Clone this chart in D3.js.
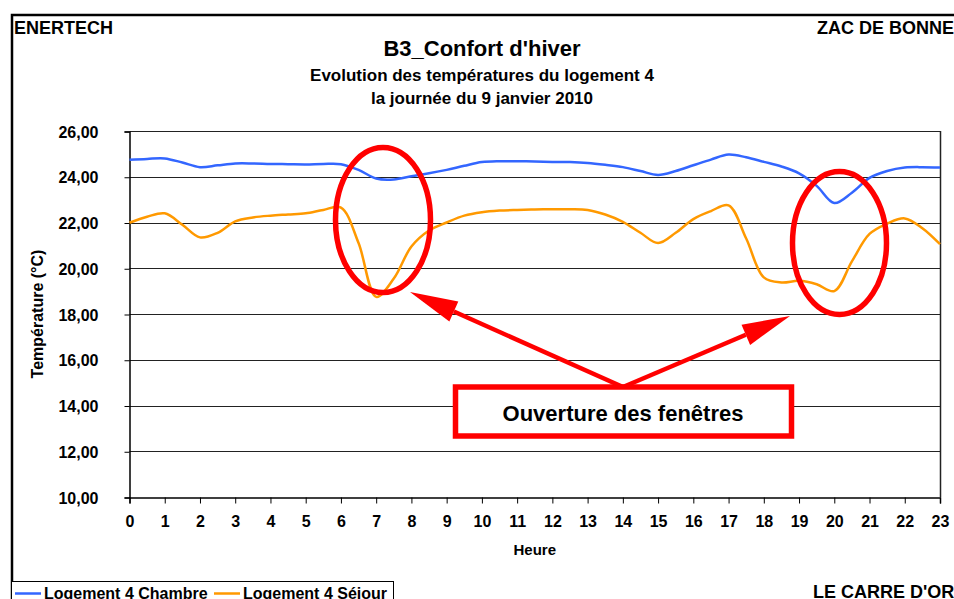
<!DOCTYPE html>
<html>
<head>
<meta charset="utf-8">
<script src="https://cdn.jsdelivr.net/npm/d3@7"></script>
<style>
  body { margin: 0; background: #fff; }
  svg { display: block; font-family: "Liberation Sans", Arial, sans-serif; font-weight: bold; }
</style>
</head>
<body>
<script>
const width = 954
const height = 599

// hours (half-hour readings)
const hours = [0, 0.5, 1, 1.5, 2, 2.5, 3, 3.5, 4, 4.5, 5, 5.5, 6, 6.5, 7, 7.5, 8, 8.5,
    9, 9.5, 10, 10.5, 11, 11.5, 12, 12.5, 13, 13.5, 14, 14.5, 15, 15.5, 16, 16.5,
    17, 17.5, 18, 18.5, 19, 19.5, 20, 20.5, 21, 21.5, 22, 22.5, 23];

const chambre = [24.74, 24.78, 24.80, 24.62, 24.42, 24.50, 24.58, 24.58, 24.56, 24.55,
    24.54, 24.56, 24.55, 24.30, 23.92, 23.88, 24.02, 24.15, 24.30, 24.48, 24.64, 24.68,
    24.68, 24.67, 24.65, 24.64, 24.60, 24.52, 24.42, 24.25, 24.08, 24.25, 24.50, 24.75,
    24.97, 24.85, 24.65, 24.45, 24.15, 23.60, 22.85, 23.30, 23.95, 24.25, 24.40, 24.42, 24.40];

const sejour = [21.99, 22.25, 22.40, 21.90, 21.35, 21.55, 22.05, 22.22, 22.30, 22.35,
    22.40, 22.55, 22.65, 21.10, 18.75, 19.55, 20.95, 21.65, 22.00, 22.30, 22.45, 22.52,
    22.55, 22.57, 22.58, 22.58, 22.55, 22.35, 22.03, 21.55, 21.10, 21.55, 22.15, 22.50,
    22.75, 21.30, 19.60, 19.38, 19.45, 19.30, 19.00, 20.30, 21.50, 21.95, 22.18, 21.75, 21.05];

const yTicks = [10, 12, 14, 16, 18, 20, 22, 24, 26];
const xTicks = [0, 1, 2, 3, 4, 5, 6, 7, 8, 9, 10, 11, 12, 13, 14, 15, 16, 17, 18, 19, 20, 21, 22, 23];

const seriesNames = ["Logement 4 Chambre", "Logement 4 Séjour"];
const seriesColors = ["#3366ff", "#ff9900"];

const svg = d3.select("body").append("svg")
    .attr("width", width)
    .attr("height", height);

// outer frame
svg.append("path")
    .attr("d", "M12,599 V15 H960")
    .attr("fill", "none")
    .attr("stroke", "#000")
    .attr("stroke-width", 2.5);

// headers
svg.append("text").attr("x", 14).attr("y", 34).attr("font-size", 18).text("ENERTECH");
svg.append("text").attr("x", 817).attr("y", 34).attr("font-size", 18).text("ZAC DE BONNE");
svg.append("text").attr("x", 813).attr("y", 598).attr("font-size", 18).text("LE CARRE D'OR");

// titles
svg.append("text").attr("x", 482).attr("y", 56).attr("text-anchor", "middle")
    .attr("font-size", 22).text("B3_Confort d'hiver");
svg.append("text").attr("x", 482).attr("y", 81).attr("text-anchor", "middle")
    .attr("font-size", 17).text("Evolution des températures du logement 4");
svg.append("text").attr("x", 482).attr("y", 104).attr("text-anchor", "middle")
    .attr("font-size", 17).text("la journée du 9 janvier 2010");

// scales
const x = d3.scaleLinear().domain([0, 23]).range([129.5, 940]);
const y = d3.scaleLinear().domain([10, 26]).range([497, 131]);

// gridlines
svg.append("g")
    .selectAll("line")
    .data(yTicks.slice(1))
    .enter()
    .append("line")
    .attr("x1", x(0)).attr("x2", x(23))
    .attr("y1", d => Math.round(y(d)) + 0.5)
    .attr("y2", d => Math.round(y(d)) + 0.5)
    .attr("stroke", "#222")
    .attr("stroke-width", 1);

// right border
svg.append("line")
    .attr("x1", 940.5).attr("x2", 940.5).attr("y1", y(26)).attr("y2", y(10))
    .attr("stroke", "#222").attr("stroke-width", 1.5);

// axes
const yAxis = svg.append("g")
    .attr("transform", "translate(129.5,0.5)")
    .call(d3.axisLeft(y).tickValues(yTicks).tickSize(5).tickPadding(26)
        .tickFormat(d => d3.format(".2f")(d).replace(".", ",")));

const xAxis = svg.append("g")
    .attr("transform", "translate(0,497.5)")
    .call(d3.axisBottom(x).tickValues(xTicks).tickSize(6).tickPadding(12).tickFormat(d3.format("d")));

[yAxis, xAxis].forEach(g => {
    g.selectAll("path").attr("stroke", "#000").attr("stroke-width", 1.5);
    g.selectAll("line").attr("stroke", "#000");
    g.selectAll("text")
        .attr("font-family", "Liberation Sans, Arial, sans-serif")
        .attr("font-weight", "bold")
        .attr("font-size", 16)
        .attr("fill", "#000");
});
yAxis.selectAll("text").attr("text-anchor", "end").attr("dy", "0.35em");

// axis titles
svg.append("text").attr("x", x(11.5)).attr("y", 555).attr("text-anchor", "middle")
    .attr("font-size", 15).text("Heure");
svg.append("text")
    .attr("transform", "translate(43,314) rotate(-90)")
    .attr("text-anchor", "middle")
    .attr("font-size", 16)
    .text("Température (°C)");

// lines
const line = d3.line()
    .x((d, i) => x(hours[i]))
    .y(d => y(d))
    .curve(d3.curveCatmullRom);

[chambre, sejour].forEach((s, k) => {
    svg.append("path")
        .attr("d", line(s))
        .attr("fill", "none")
        .attr("stroke", seriesColors[k])
        .attr("stroke-width", 2.5);
});

// annotations
const red = "#ff0000";
svg.append("ellipse").attr("cx", 383).attr("cy", 220).attr("rx", 47.5).attr("ry", 72.5)
    .attr("fill", "none").attr("stroke", red).attr("stroke-width", 5.5);
svg.append("ellipse").attr("cx", 839.5).attr("cy", 243).attr("rx", 47).attr("ry", 71.5)
    .attr("fill", "none").attr("stroke", red).attr("stroke-width", 5.5);

function arrow(x0, y0, x1, y1) {
    const dx = x1 - x0, dy = y1 - y0;
    const len = Math.sqrt(dx * dx + dy * dy);
    const ux = dx / len, uy = dy / len;
    const headLen = 48, headW = 11;
    const bx = x1 - ux * headLen, by = y1 - uy * headLen;
    svg.append("line")
        .attr("x1", x0).attr("y1", y0).attr("x2", bx).attr("y2", by)
        .attr("stroke", red).attr("stroke-width", 4.5);
    svg.append("path")
        .attr("d", `M${x1},${y1} L${bx - uy * headW},${by + ux * headW} L${bx + uy * headW},${by - ux * headW} Z`)
        .attr("fill", red);
}
arrow(623, 387, 410, 292);
arrow(623, 387, 790, 316);

svg.append("rect")
    .attr("x", 455.5).attr("y", 387).attr("width", 336).attr("height", 49)
    .attr("fill", "#fff").attr("stroke", red).attr("stroke-width", 5.5);
svg.append("text").attr("x", 623).attr("y", 421).attr("text-anchor", "middle")
    .attr("font-size", 22).text("Ouverture des fenêtres");

// legend
svg.append("rect")
    .attr("x", 11.5).attr("y", 581.5).attr("width", 382).attr("height", 30)
    .attr("fill", "#fff").attr("stroke", "#000").attr("stroke-width", 1);

const legendX = [15, 214];
seriesNames.forEach((name, k) => {
    svg.append("line")
        .attr("x1", legendX[k]).attr("x2", legendX[k] + 26)
        .attr("y1", 593.5).attr("y2", 593.5)
        .attr("stroke", seriesColors[k]).attr("stroke-width", 2.5);
    svg.append("text")
        .attr("x", legendX[k] + 29).attr("y", 599)
        .attr("font-size", 16)
        .text(name);
});
</script>
</body>
</html>
